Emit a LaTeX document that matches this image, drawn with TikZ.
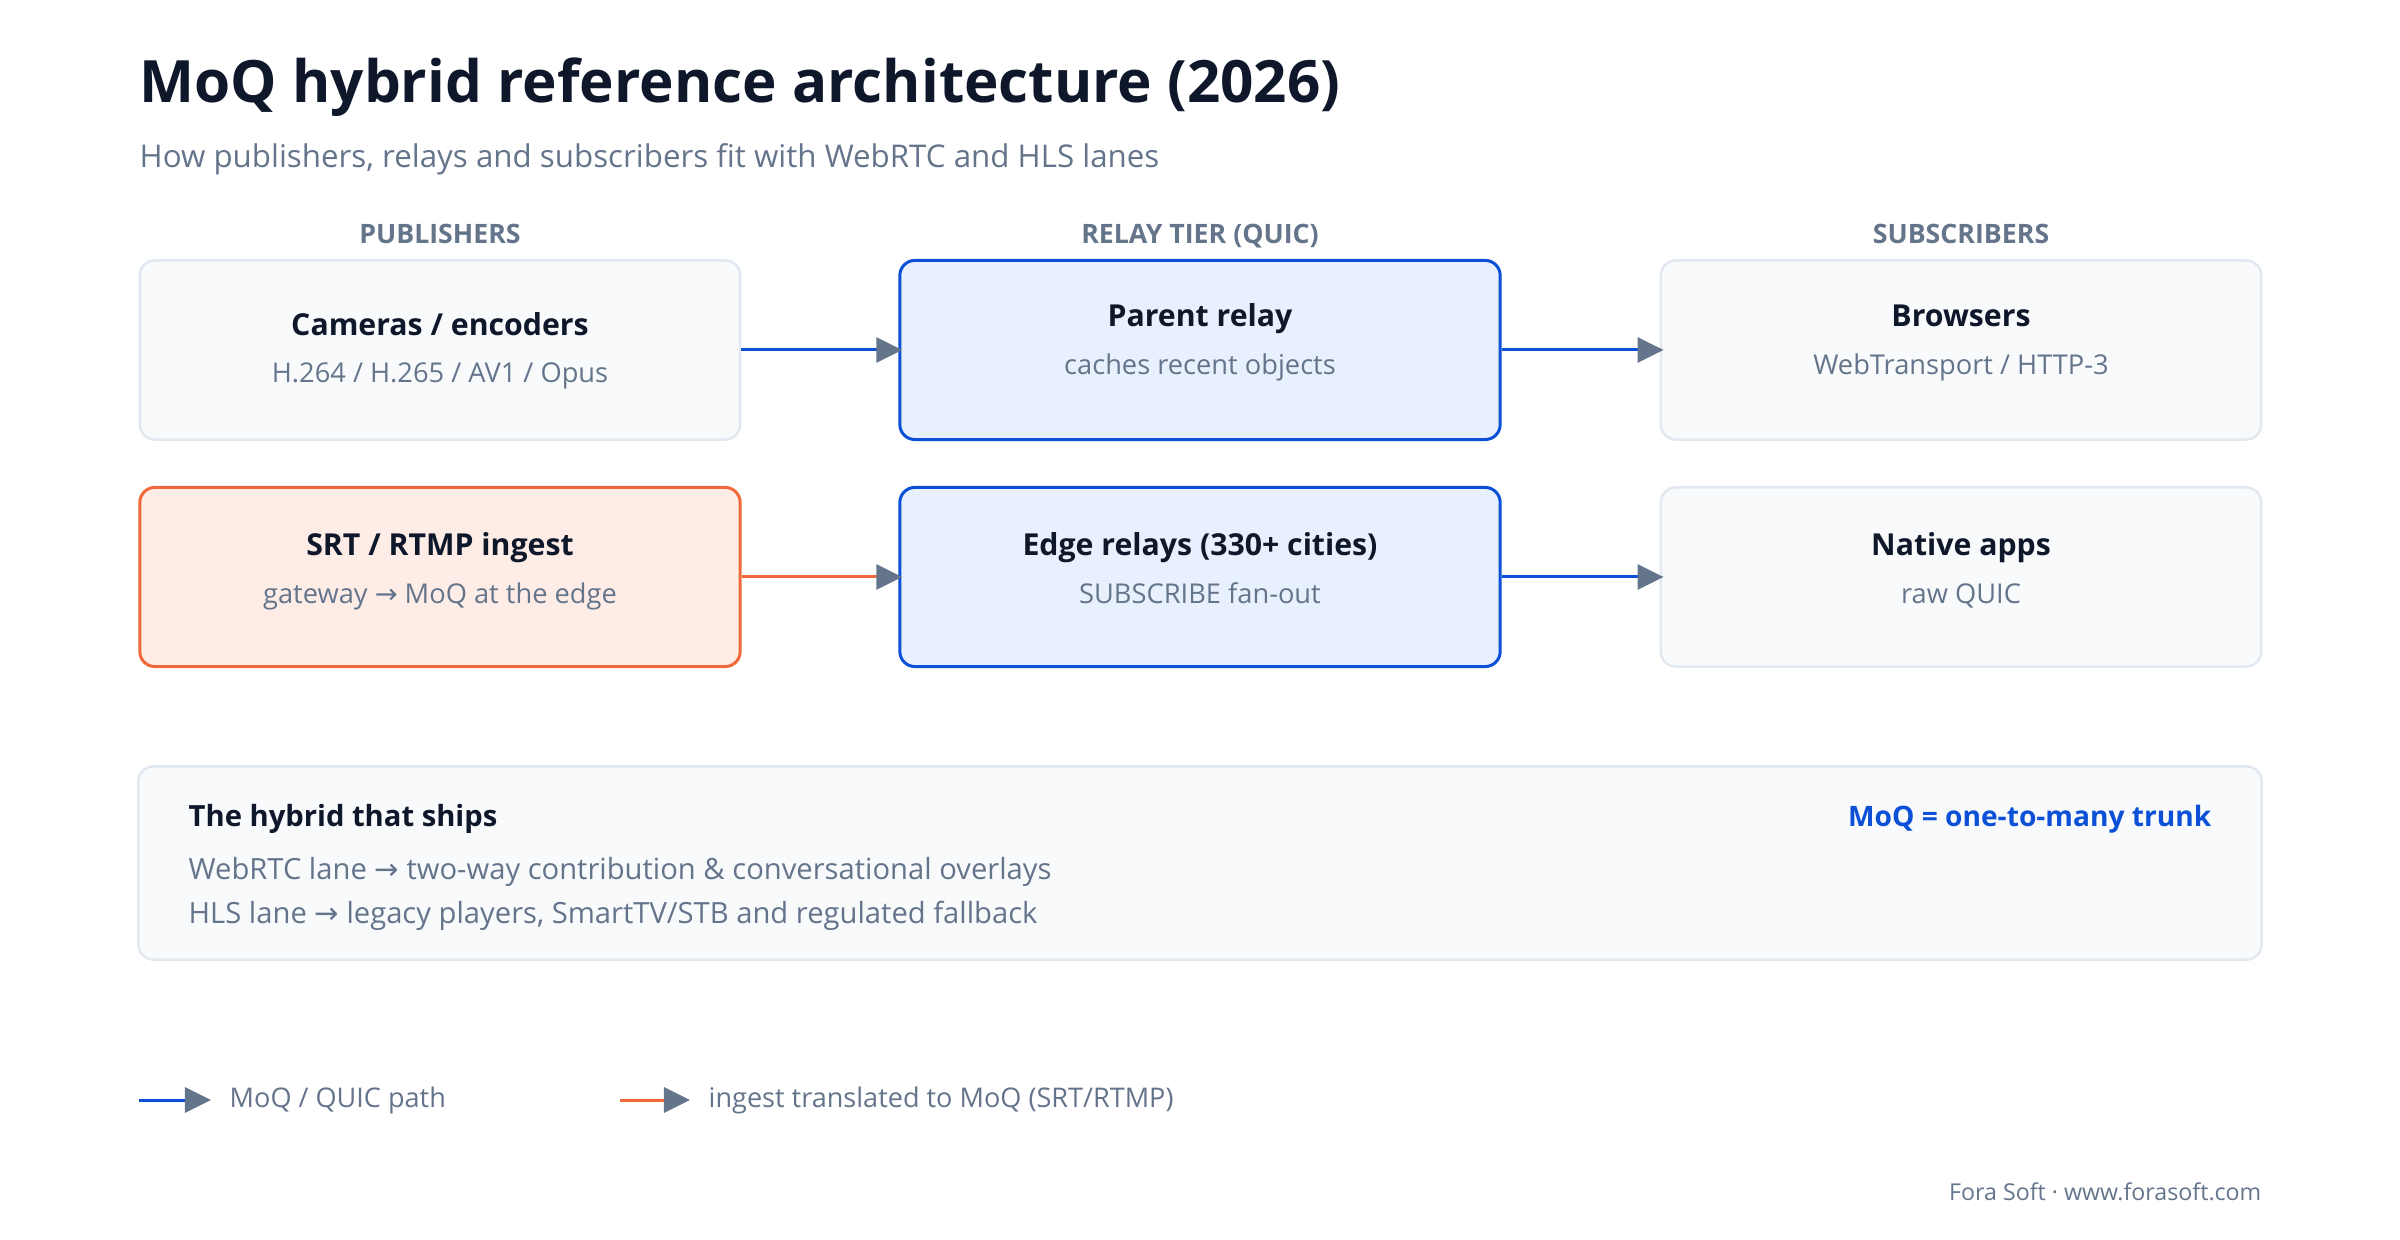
\documentclass[tikz,border=0pt]{standalone}
\usepackage{fontspec}
\setmainfont{Open Sans}
\newfontfamily\symfont{DejaVu Sans}
\usetikzlibrary{arrows.meta,positioning}

\definecolor{ink}{HTML}{0F172A}
\definecolor{slate}{HTML}{64748B}
\definecolor{moqblue}{HTML}{0B50D6}
\definecolor{relayfill}{HTML}{E8F0FD}
\definecolor{ingest}{HTML}{F0693A}
\definecolor{ingestfill}{HTML}{FDEDE6}
\definecolor{panel}{HTML}{F8FAFC}
\definecolor{panelline}{HTML}{E2E8F0}

\newcommand{\titlesize}{\fontsize{16.6pt}{19pt}\selectfont\bfseries}
\newcommand{\subsize}{\fontsize{8.9pt}{10pt}\selectfont}
\newcommand{\lanesize}{\fontsize{8.3pt}{10pt}\selectfont}
\newcommand{\headsize}{\fontsize{7.6pt}{9pt}\selectfont\bfseries}
\newcommand{\boxhead}{\fontsize{8.6pt}{10pt}\selectfont\bfseries}
\newcommand{\boxsub}{\fontsize{7.75pt}{9pt}\selectfont}
\newcommand{\legsize}{\fontsize{7.7pt}{9pt}\selectfont}
\newcommand{\footsize}{\fontsize{6.6pt}{8pt}\selectfont}
\newcommand{\arr}{{\symfont →}}

\tikzset{
  card/.style={rounded corners=1.5mm, minimum width=6.0cm, minimum height=1.79cm, inner sep=0pt},
  plaincard/.style={card, draw=panelline, fill=panel, line width=0.25mm},
  relaycard/.style={card, draw=moqblue, fill=relayfill, line width=0.3mm},
  ingestcard/.style={card, draw=ingest, fill=ingestfill, line width=0.3mm},
  txt/.style={inner sep=0pt, anchor=base},
  flow/.style={draw=moqblue, line width=0.3mm, -{Triangle[length=2.6mm, width=2.5mm, color=slate]}, shorten >=-0.4mm},
  ingestflow/.style={flow, draw=ingest}
}

\begin{document}
\begin{tikzpicture}[x=0.01cm, y=-0.01cm]
  \useasboundingbox (0,0) rectangle (2400,1240);

  % heading
  \node[txt, anchor=base west, text=ink] (title) at (139,103) {\titlesize MoQ hybrid reference architecture (2026)};
  \node[txt, anchor=base west, text=slate] (subtitle) at (139,168) {\subsize How publishers, relays and subscribers fit with WebRTC and HLS lanes};

  % column heads
  \node[txt, text=slate] (hpub) at (440,244) {\headsize PUBLISHERS};
  \node[txt, text=slate] (hrelay) at (1200,244) {\headsize RELAY TIER (QUIC)};
  \node[txt, text=slate] (hsub) at (1961,244) {\headsize SUBSCRIBERS};

  % row 1
  \node[plaincard] (cams) at (440,350) {};
  \node[relaycard] (parent) at (1200,350) {};
  \node[plaincard] (browsers) at (1961,350) {};
  \node[txt, text=ink] (camsT) at (440,336) {\boxhead Cameras / encoders};
  \node[txt, text=slate] (camsS) at (440,383) {\boxsub H.264 / H.265 / AV1 / Opus};
  \node[txt, text=ink] (parentT) at (1200,327) {\boxhead Parent relay};
  \node[txt, text=slate] (parentS) at (1200,375) {\boxsub caches recent objects};
  \node[txt, text=ink] (browsersT) at (1961,327) {\boxhead Browsers};
  \node[txt, text=slate] (browsersS) at (1961,375) {\boxsub WebTransport / HTTP-3};

  % row 2
  \node[ingestcard] (srt) at (440,577) {};
  \node[relaycard] (edge) at (1200,577) {};
  \node[plaincard] (native) at (1961,577) {};
  \node[txt, text=ink] (srtT) at (440,556) {\boxhead SRT / RTMP ingest};
  \node[txt, text=slate] (srtS) at (440,604) {\boxsub gateway \arr{} MoQ at the edge};
  \node[txt, text=ink] (edgeT) at (1200,556) {\boxhead Edge relays (330+ cities)};
  \node[txt, text=slate] (edgeS) at (1200,604) {\boxsub SUBSCRIBE fan-out};
  \node[txt, text=ink] (nativeT) at (1961,556) {\boxhead Native apps};
  \node[txt, text=slate] (nativeS) at (1961,604) {\boxsub raw QUIC};

  % arrows
  \draw[flow] (cams) -- (parent);
  \draw[flow] (parent) -- (browsers);
  \draw[ingestflow] (srt) -- (edge);
  \draw[flow] (edge) -- (native);

  % hybrid panel
  \node[plaincard, minimum width=21.22cm, minimum height=1.93cm] (hybrid) at (1200,863) {};
  \node[txt, anchor=base west, text=ink] (hybridT) at (188,827) {\lanesize\bfseries The hybrid that ships};
  \node[txt, anchor=base east, text=moqblue] (trunk) at (2212,827) {\fontsize{8.0pt}{10pt}\selectfont\bfseries MoQ = one-to-many trunk};
  \node[txt, anchor=base west, text=slate] (webrtc) at (188,879) {\lanesize WebRTC lane \arr{} two-way contribution \& conversational overlays};
  \node[txt, anchor=base west, text=slate] (hls) at (188,923) {\lanesize HLS lane \arr{} legacy players, SmartTV/STB and regulated fallback};

  % legend
  \coordinate (lgA) at (139,1100);
  \coordinate (lgB) at (211,1100);
  \coordinate (lgC) at (620,1100);
  \coordinate (lgD) at (690,1100);
  \draw[flow, shorten >=0pt] (lgA) -- (lgB);
  \draw[ingestflow, shorten >=0pt] (lgC) -- (lgD);
  \node[txt, anchor=base west, text=slate] (lgmoq) at (229,1107) {\legsize MoQ / QUIC path};
  \node[txt, anchor=base west, text=slate] (lgingest) at (708,1107) {\legsize ingest translated to MoQ (SRT/RTMP)};

  \node[txt, anchor=base east, text=slate] (footer) at (2262,1200) {\footsize Fora Soft · www.forasoft.com};
\end{tikzpicture}
\end{document}
